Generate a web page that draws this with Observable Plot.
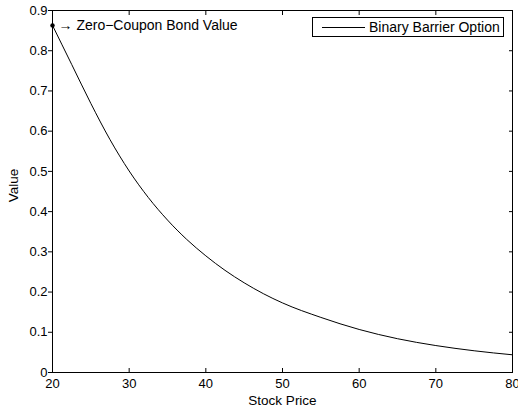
<!DOCTYPE html>
<html><head><meta charset="utf-8">
<script src="https://cdn.jsdelivr.net/npm/d3@7"></script>
<script src="https://cdn.jsdelivr.net/npm/@observablehq/plot@0.6"></script>
<style>
body{margin:0;background:#fff;}
#wrap{position:relative;width:518px;height:409px;font-family:"Liberation Sans",Arial,sans-serif;}
#legend{position:absolute;left:312px;top:17px;width:192px;height:20px;border:1px solid #000;background:#fff;box-sizing:border-box;display:flex;align-items:center;font-size:14px;color:#000;white-space:nowrap;}
#legend .swatch{width:43px;height:0;border-top:1px solid #000;margin-left:9px;margin-right:4px;}
</style></head>
<body><div id="wrap"></div>
<script>
const stockPrice = [20, 22.5, 25, 27.5, 30, 32.5, 35, 37.5, 40, 42.5, 45, 47.5, 50, 55, 60, 65, 70, 75, 80];
const optionValue = [0.863, 0.766, 0.669, 0.579, 0.501, 0.435, 0.379, 0.331, 0.290, 0.254, 0.223, 0.196, 0.173, 0.137, 0.107, 0.084, 0.067, 0.054, 0.044];
const xTicks = [20, 30, 40, 50, 60, 70, 80];
const yTicks = [0, 0.1, 0.2, 0.3, 0.4, 0.5, 0.6, 0.7, 0.8, 0.9];
const yTickLabels = ["0", "0.1", "0.2", "0.3", "0.4", "0.5", "0.6", "0.7", "0.8", "0.9"];
const seriesName = "Binary Barrier Option";
const annotationText = "\u2192 Zero\u2212Coupon Bond Value";
const annotationPoint = [{x: 20, y: 0.863}];
const xLabel = "Stock Price";
const yLabel = "Value";

const data = stockPrice.map((s, i) => ({s, v: optionValue[i]}));
const font = "Liberation Sans, Arial, sans-serif";

const chart = Plot.plot({
  width: 518,
  height: 409,
  marginLeft: 52,
  marginRight: 6,
  marginTop: 10,
  marginBottom: 37,
  style: {fontFamily: font, fontSize: "13px", color: "#000", background: "#fff"},
  x: {domain: [20, 80]},
  y: {domain: [0, 0.9]},
  marks: [
    Plot.axisX({ticks: xTicks, anchor: "bottom", tickSize: 0, tickPadding: 6, tickFormat: d => String(d), label: null, fontSize: 13}),
    Plot.axisX({ticks: xTicks, anchor: "bottom", tickSize: -4, tickFormat: () => "", label: null}),
    Plot.axisX({ticks: xTicks, anchor: "top", tickSize: -4, tickFormat: () => "", label: null}),
    Plot.axisY({ticks: yTicks, anchor: "left", tickSize: 4, tickPadding: 1, tickFormat: d => yTickLabels[yTicks.indexOf(d)], label: null, fontSize: 13}),
    Plot.axisY({ticks: yTicks, anchor: "right", tickSize: -4, tickFormat: () => "", label: null}),
    Plot.lineY(data, {x: "s", y: "v", stroke: "#000", strokeWidth: 1, curve: "monotone-x"}),
    Plot.dot(annotationPoint, {x: "x", y: "y", r: 2.2, fill: "#000", stroke: "none"}),
    Plot.text(annotationPoint, {x: "x", y: "y", text: () => annotationText, textAnchor: "start", dx: 6, fontSize: 14, fill: "#000"}),
    Plot.text([xLabel], {frameAnchor: "bottom", text: d => d, textAnchor: "middle", lineAnchor: "middle", dy: 28, fontSize: 13.5, fill: "#000"}),
    Plot.text([yLabel], {frameAnchor: "left", text: d => d, rotate: -90, textAnchor: "middle", lineAnchor: "middle", dx: -39, dy: -6, fontSize: 13.5, fill: "#000"}),
    Plot.frame({stroke: "#000", strokeWidth: 1})
  ]
});
const wrap = document.getElementById("wrap");
wrap.appendChild(chart);
const legend = document.createElement("div");
legend.id = "legend";
legend.innerHTML = '<span class="swatch"></span><span></span>';
legend.lastChild.textContent = seriesName;
wrap.appendChild(legend);
</script>
</body></html>
